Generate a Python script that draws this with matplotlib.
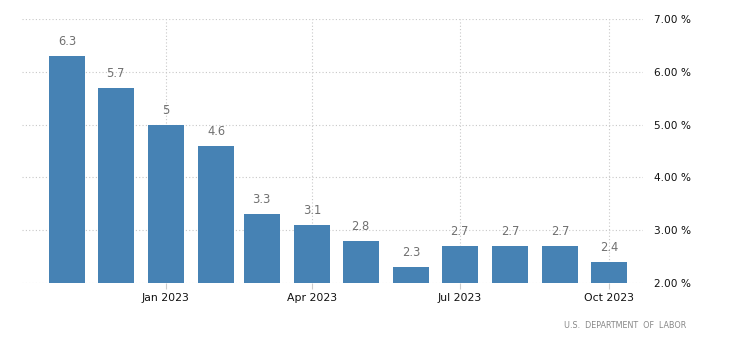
import matplotlib
matplotlib.use("Agg")
import matplotlib.pyplot as plt
import matplotlib.dates as mdates
import numpy as np
import datetime as dt

months = ["2022-11", "2022-12", "2023-01", "2023-02", "2023-03", "2023-04",
          "2023-05", "2023-06", "2023-07", "2023-08", "2023-09", "2023-10"]
values = [6.3, 5.7, 5.0, 4.6, 3.3, 3.1, 2.8, 2.3, 2.7, 2.7, 2.7, 2.4]
value_labels = ["6.3", "5.7", "5", "4.6", "3.3", "3.1", "2.8", "2.3", "2.7", "2.7", "2.7", "2.4"]
xtick_dates = ["2023-01", "2023-04", "2023-07", "2023-10"]
xtick_labels = ["Jan 2023", "Apr 2023", "Jul 2023", "Oct 2023"]
yticks = [2, 3, 4, 5, 6, 7]
source = "U.S.  DEPARTMENT  OF  LABOR"

def d(s):
    y, m = s.split("-")
    return dt.date(int(y), int(m), 1)

dates = [d(m) for m in months]
xnum = mdates.date2num(dates)
base = 2.0

W, H = 730, 351
fig = plt.figure(figsize=(W / 100, H / 100), dpi=100)
ax = fig.add_axes([22 / W, 1 - 283 / H, (643 - 22) / W, (283 - 19) / H])

ax.bar(xnum, np.array(values) - base, bottom=base, width=22.2,
       color="#4682b4", zorder=3)
for x, v, lab in zip(xnum, values, value_labels):
    ax.text(x, v + 0.15, lab, ha="center", va="bottom", fontsize=8.3,
            color="#707070", zorder=4)

ax.set_ylim(2, 7)
ax.set_xlim(xnum[0] - 27.7, xnum[-1] + 21)
ax.yaxis.tick_right()
ax.set_yticks(yticks)
ax.set_yticklabels([f"{t:.2f} %" for t in yticks], fontsize=7.6, color="#111111")
ax.set_xticks(mdates.date2num([d(s) for s in xtick_dates]))
ax.set_xticklabels(xtick_labels, fontsize=7.8, color="#111111")
ax.tick_params(axis="y", length=0, pad=8)
ax.tick_params(axis="x", length=4, color="#cccccc", pad=3)
for s in ax.spines.values():
    s.set_visible(False)
ax.grid(True, color="#c8c8c8", linestyle=(0, (1, 2)), linewidth=0.8, zorder=0)

fig.text(686 / W, 1 - 325 / H, source, ha="right", va="center",
         fontsize=5.8, color="#888888")

fig.savefig("out.png", dpi=100)
